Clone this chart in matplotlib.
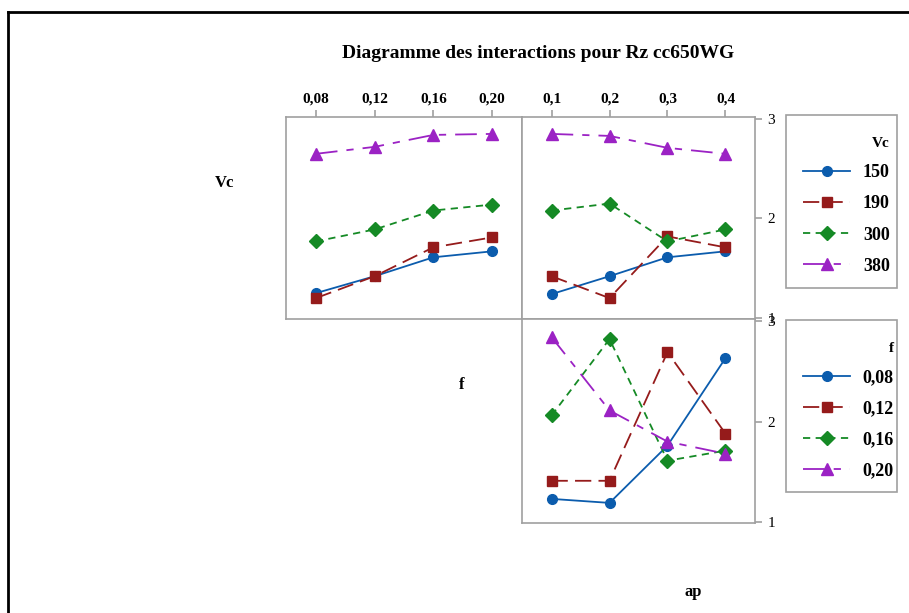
import matplotlib.pyplot as plt
from matplotlib.lines import Line2D
from matplotlib.patches import Rectangle

plt.rcParams['font.family'] = ['Liberation Serif', 'DejaVu Serif']

# data
f_levels = ['0,08', '0,12', '0,16', '0,20']
ap_levels = ['0,1', '0,2', '0,3', '0,4']
vc_levels = ['150', '190', '300', '380']

# Rz means, one row per Vc level, against f
rz_vc_by_f = [
    [1.25, 1.42, 1.61, 1.67],
    [1.20, 1.42, 1.71, 1.81],
    [1.77, 1.89, 2.08, 2.14],
    [2.65, 2.72, 2.84, 2.85],
]
# Rz means, one row per Vc level, against ap
rz_vc_by_ap = [
    [1.24, 1.42, 1.61, 1.67],
    [1.42, 1.20, 1.82, 1.71],
    [2.08, 2.15, 1.77, 1.89],
    [2.85, 2.83, 2.71, 2.65],
]
# Rz means, one row per f level, against ap
rz_f_by_ap = [
    [1.23, 1.19, 1.76, 2.63],
    [1.41, 1.41, 2.69, 1.88],
    [2.06, 2.82, 1.61, 1.71],
    [2.84, 2.11, 1.80, 1.68],
]

colors = ['#0b5cad', '#951b1b', '#158a25', '#9b22c4']
markers = ['o', 's', 'D', '^']
dashes = ['-', (0, (9, 4)), (0, (4, 3)), (0, (12, 5, 4, 5))]
msizes = [7, 7, 7.5, 8]

W, H = 909, 613


def box(x0, y0, x1, y1):
    return [x0 / W, 1 - y1 / H, (x1 - x0) / W, (y1 - y0) / H]


def draw(ax, xlabels, series):
    x = range(len(xlabels))
    handles = []
    for ys, c, m, ls, ms in zip(series, colors, markers, dashes, msizes):
        h, = ax.plot(x, ys, color=c, marker=m, linestyle=ls, lw=1.3,
                     markersize=ms)
        handles.append(h)
    ax.set_xlim(-0.51, 3.51)
    ax.set_ylim(0.99, 3.02)
    for s in ax.spines.values():
        s.set_color('#a0a0a0')
        s.set_linewidth(1.2)
    ax.tick_params(colors='#a0a0a0', labelcolor='black', length=5, width=1.2)
    return handles


fig = plt.figure(figsize=(9.09, 6.13), dpi=100)

ax1 = fig.add_axes(box(286, 117, 522, 319))
ax2 = fig.add_axes(box(522, 117, 755, 319))
ax3 = fig.add_axes(box(522, 319, 755, 523))

h_vc = draw(ax1, f_levels, rz_vc_by_f)
draw(ax2, ap_levels, rz_vc_by_ap)
h_f = draw(ax3, ap_levels, rz_f_by_ap)

for ax, labels in [(ax1, f_levels), (ax2, ap_levels)]:
    ax.xaxis.tick_top()
    ax.set_xticks(range(len(labels)))
    ax.set_xticklabels(labels, fontsize=11, fontweight='bold')
    ax.tick_params(axis='x', pad=3)
ax1.set_yticks([])
ax3.set_xticks([])
for ax in (ax2, ax3):
    ax.yaxis.tick_right()
    ax.set_yticks([1, 2, 3])
    ax.tick_params(axis='y', labelsize=11, pad=4)

# legends with drawn boxes
for hs, labels, title, (x0, y0, x1, y1) in [
        (h_vc, vc_levels, 'Vc', (786, 115, 897, 288)),
        (h_f, f_levels, 'f', (786, 320, 897, 492))]:
    fig.add_artist(Rectangle((x0 / W, 1 - y1 / H), (x1 - x0) / W, (y1 - y0) / H,
                             transform=fig.transFigure, fill=False,
                             edgecolor='#a0a0a0', lw=1.2))
    fig.legend(hs, labels, title=title, loc='upper left',
               bbox_to_anchor=((x0 + 1) / W, 1 - (y0 + 6) / H),
               frameon=False, alignment='right', handlelength=2.6,
               handletextpad=0.7, labelspacing=0.78,
               prop={'size': 13, 'weight': 'bold'},
               title_fontproperties={'size': 11, 'weight': 'bold'})

fig.suptitle('Diagramme des interactions pour Rz cc650WG', x=538 / W,
             y=1 - 53 / H, va='center', fontsize=14, fontweight='bold')
fig.text(225 / W, 1 - 183 / H, 'Vc', ha='center', va='center',
         fontsize=12, fontweight='bold')
fig.text(462 / W, 1 - 385 / H, 'f', ha='center', va='center',
         fontsize=12, fontweight='bold')
fig.text(693 / W, 1 - 592 / H, 'ap', ha='center', va='center',
         fontsize=12, fontweight='bold')

# outer frame
fig.add_artist(Line2D([8 / W, 1], [1 - 12 / H, 1 - 12 / H], color='black',
                      lw=2, transform=fig.transFigure))
fig.add_artist(Line2D([8 / W, 8 / W], [0, 1 - 12 / H], color='black',
                      lw=2, transform=fig.transFigure))

fig.savefig('out.png', dpi=100)
